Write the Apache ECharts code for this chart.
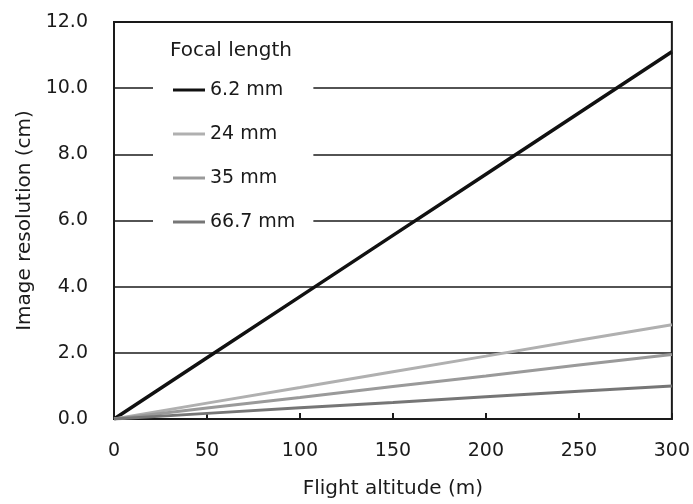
<!DOCTYPE html>
<html><head><meta charset="utf-8">
<script src="https://cdn.jsdelivr.net/npm/echarts@6/dist/echarts.min.js"></script>
<style>html,body{margin:0;padding:0;background:#fff}#c{width:693px;height:504px}</style>
</head><body><div id="c"></div>
<script>
const altitudes = [0, 50, 100, 150, 200, 250, 300];
const seriesNames = ['6.2 mm', '24 mm', '35 mm', '66.7 mm'];
const res62 = [0, 1.85, 3.7, 5.55, 7.4, 9.25, 11.1];
const res24 = [0, 0.48, 0.95, 1.43, 1.9, 2.38, 2.85];
const res35 = [0, 0.33, 0.65, 0.98, 1.3, 1.63, 1.95];
const res667 = [0, 0.17, 0.34, 0.5, 0.67, 0.84, 1.0];
const seriesColors = ['#111111', '#b0b0b0', '#9a9a9a', '#767676'];
const allValues = [res62, res24, res35, res667];

const font = 'DejaVu Sans';
const chart = echarts.init(document.getElementById('c'), null, {renderer: 'canvas'});
chart.setOption({
  animation: false,
  backgroundColor: '#fff',
  textStyle: {fontFamily: font, color: '#1a1a1a'},
  grid: {left: 114, right: 17, top: 22, bottom: 85, show: true, borderColor: '#1a1a1a', borderWidth: 2, backgroundColor: 'transparent'},
  graphic: [{type: 'text', left: 170, top: 41, z: 100,
    style: {text: 'Focal length', font: '20px "DejaVu Sans"', fill: '#1a1a1a'}}],
  legend: {
    orient: 'vertical', left: 153, top: 70, padding: [10, 18, 10, 20],
    backgroundColor: '#fff', icon: 'rect', itemWidth: 32, itemHeight: 3, itemGap: 24,
    textStyle: {fontFamily: font, fontSize: 19, color: '#1a1a1a', lineHeight: 20},
    data: seriesNames
  },
  xAxis: {
    type: 'value', min: 0, max: 300, interval: 50,
    name: 'Flight altitude (m)', nameLocation: 'middle', nameGap: 60,
    nameTextStyle: {fontFamily: font, fontSize: 20, color: '#1a1a1a'},
    axisLine: {show: true, lineStyle: {color: '#1a1a1a', width: 2}},
    axisTick: {show: true, inside: true, length: 6, lineStyle: {color: '#1a1a1a', width: 2}},
    axisLabel: {margin: 23, fontFamily: font, fontSize: 19, color: '#1a1a1a'},
    splitLine: {show: false}
  },
  yAxis: {
    type: 'value', min: 0, max: 12, interval: 2,
    name: 'Image resolution (cm)', nameLocation: 'middle', nameGap: 78, nameRotate: 90,
    nameTextStyle: {fontFamily: font, fontSize: 20, color: '#1a1a1a'},
    axisLine: {show: true, lineStyle: {color: '#1a1a1a', width: 2}},
    axisTick: {show: false},
    axisLabel: {margin: 26, fontFamily: font, fontSize: 19, color: '#1a1a1a', formatter: v => v.toFixed(1)},
    splitLine: {show: true, lineStyle: {color: '#1a1a1a', width: 1.5}}
  },
  series: seriesNames.map((n, i) => ({
    name: n, type: 'line', showSymbol: false, symbol: 'none',
    data: altitudes.map((a, j) => [a, allValues[i][j]]),
    lineStyle: {color: seriesColors[i], width: i === 0 ? 3.5 : 3},
    itemStyle: {color: seriesColors[i]}
  }))
});
</script></body></html>
